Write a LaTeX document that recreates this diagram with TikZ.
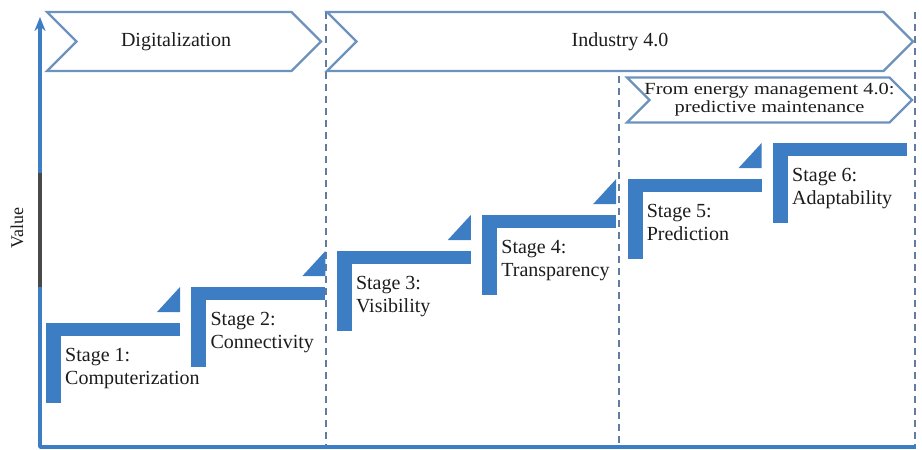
\documentclass[tikz,border=0pt]{standalone}
\usepackage{fontspec}
\setmainfont{Liberation Serif}
\newfontfamily\widefont[FakeStretch=1.2]{Liberation Serif}
\usetikzlibrary{shapes.symbols,arrows.meta,positioning}
\definecolor{barblue}{RGB}{61,125,195}
\definecolor{edgeblue}{RGB}{108,146,190}
\definecolor{dashblue}{RGB}{98,124,160}
\definecolor{inkgray}{RGB}{28,28,28}
\tikzset{phase/.style={signal,signal from=west,signal to=east,draw=edgeblue,line width=2.2pt,inner sep=0pt,text=inkgray},
         phase text/.style={inner sep=0pt,text=inkgray},
         stage bar/.style={fill=barblue,draw=none},
         stage label/.style={anchor=north west,align=left,inner sep=0pt,text=inkgray,font=\fontsize{20}{23}\selectfont},
         border line/.style={dashblue,line width=1.6pt,dash pattern=on 7pt off 5pt},
}
\begin{document}
\begin{tikzpicture}[x=1pt,y=-1pt,font=\fontsize{20}{23}\selectfont]
\useasboundingbox (0,0) rectangle (922,450);
% \draw[help lines,step=50] (0,0) grid (922,450);
\coordinate (o) at (40,447);
\coordinate (vtop) at (40,17);
\coordinate (hend) at (916,447);
\draw[border line] (326,12) -- (326,447);
\draw[border line] (619,76) -- (619,447);
\draw[border line] (915,12) -- (915,447);
\draw[barblue,line width=3.4pt,line join=round,-{Stealth[length=14pt,width=11pt]}] (hend) -- (o) -- (vtop);
\draw[inkgray!80,line width=3.4pt] (40,173) -- (40,287);
\node[rotate=90,text=inkgray,font=\fontsize{18}{18}\selectfont] (value) at (17,228) {Value};
\node[phase,minimum width=274,minimum height=59] (dig) at (184,41.5) {};
\node[phase text] (digtext) at (176,41.5) {Digitalization};
\node[phase,minimum width=586,minimum height=59] (ind) at (620,41.5) {Industry 4.0};
\node[phase,minimum width=285,minimum height=45] (ems) at (769.5,100) {};
\node[phase text,align=center,font=\widefont\fontsize{17}{18}\selectfont] (emstext) at (ems.center) {From energy management 4.0:\\predictive maintenance};
\foreach \n/\txt in {1/{Stage 1:\\Computerization},2/{Stage 2:\\Connectivity},3/{Stage 3:\\Visibility},
                     4/{Stage 4:\\Transparency},5/{Stage 5:\\Prediction},6/{Stage 6:\\Adaptability}}{
  \pgfmathsetmacro\lx{46+145.4*(\n-1)}
  \pgfmathsetmacro\ty{323-36*(\n-1)}
  \fill[stage bar] (\lx,\ty) rectangle ++(134,13);
  \fill[stage bar] (\lx,\ty) rectangle ++(15,80);
  \ifnum\n<6 \fill[stage bar] (\lx+111,\ty-11) -- ++(23,0) -- ++(0,-25) -- cycle; \fi
  \node[stage label] (s\n) at (\lx+19,\ty+25.5) {\txt};
}
\end{tikzpicture}
\end{document}
